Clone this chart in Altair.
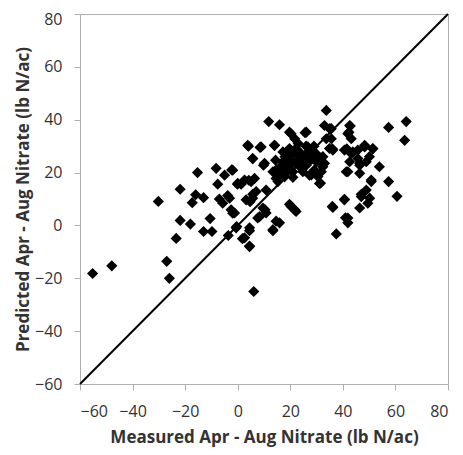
import altair as alt
import pandas as pd

measured = [-55.2, -47.9, -30.2, -27.0, -26.0, -23.4, -21.9, -21.9, -18.0, -17.3,
            -16.0, -15.3, -13.0, -13.0, -10.5, -9.8, -8.2, -7.6, -7.0, -5.7,
            -5.0, -3.8, -2.3, -2.5, -1.9, -3.6, -0.4, -0.1, 1.8, 1.3,
            4.2, 4.5, 4.5, 4.1, 5.7, 6.1, 4.7, 5.7, 6.4, 8.3,
            8.5, 9.8, 10.4, 10.8, 11.8, 13.4, 14.0, 14.4, 14.6, 15.9,
            15.9, 15.3, 15.9, 16.9, 18.4, 19.7, 19.7, 20.6, 21.0, 21.7,
            21.7, 22.2, 23.5, 24.4, 25.6, 25.8, 26.7, 27.3, 27.9, 29.2,
            29.8, 30.5, 31.5, 32.4, 32.4, 33.7, 33.0, 33.7, 35.0, 35.6,
            36.0, 36.0, 37.5, 40.6, 41.0, 41.9, 41.3, 41.5, 42.3, 42.8,
            43.2, 43.8, 45.7, 46.4, 46.4, 46.4, 47.0, 48.3, 48.9, 49.5,
            50.1, 50.8, 51.4, 53.9, 57.4, 57.4, 60.6, 63.5, 64.1,
            17.2, 19.7, 22.2, 24.1, 27.3, 28.6, 31.1, 26.1, 22.2, 19.7,
            17.2, 15.9, 13.4, 14.6, 17.8, 21.0, 24.8, 28.0, 31.8, 33.0,
            31.1, 34.9, 36.2, 40.6, 43.2, 45.7, 48.3, 51.4, 42.6, 46.4,
            48.9, 41.9, 50.8, 47.0, 50.2, 40.6, 36.2, 41.9, 20.3, 22.2,
            14.6, 13.4, 9.6, 10.8, 7.6, -1.9, 0.0, 2.6, 5.1, 7.0,
            5.7, 3.2, -1.2, -0.6, 2.6, 4.5, 4.5, -3.1, 35.6, 42.6,
            41.9, 20.3, 26.1, 3.8, 8.9, 14.0, 5.7, 10.2,
            18.0, 20.0, 22.0, 24.0, 25.0, 23.0, 26.0, 28.0, 30.0, 29.0,
            21.0, 19.0, 27.0, 24.0, 23.0, 26.0]

predicted = [-18.2, -15.3, 9.1, -13.6, -20.0, -4.9, 13.7, 1.9, 0.5, 8.6,
             11.6, 20.0, 10.5, -2.3, 2.6, -2.3, 21.6, 15.6, 10.0, 8.4,
             19.0, 11.3, 21.0, 5.9, 4.6, -3.8, -0.4, 15.6, -5.0, 15.6,
             17.1, -2.0, -8.0, 30.0, 25.3, -25.0, 9.0, 11.8, 17.8, 3.3,
             29.5, 22.8, 5.9, 13.4, 39.3, -2.0, 30.3, 24.7, 21.0, 38.1,
             1.0, 16.6, 19.0, 22.8, 20.3, 35.3, 8.0, 27.2, 18.2, 5.9,
             32.8, 24.1, 27.8, 21.6, 35.1, 25.3, 29.7, 19.0, 26.6, 21.0,
             27.2, 18.5, 16.0, 26.0, 22.2, 43.5, 37.8, 32.8, 36.6, 32.8,
             29.0, 7.2, -3.2, 9.9, 2.9, 1.0, 20.3, 29.0, 35.3, 37.6,
             32.8, 27.8, 25.3, 22.8, 19.7, 6.6, 11.8, 29.7, 13.4, 8.4,
             26.0, 16.6, 29.0, 22.2, 37.1, 16.6, 11.0, 32.2, 39.3,
             27.8, 29.1, 27.2, 25.3, 27.2, 25.3, 24.7, 22.8, 23.5, 22.8,
             24.1, 21.6, 20.3, 17.8, 18.4, 20.3, 20.3, 19.1, 20.3, 23.5,
             15.9, 29.1, 28.5, 28.5, 27.2, 28.5, 30.3, 29.1, 24.1, 23.5,
             24.1, 20.3, 17.2, 10.9, 10.3, 9.7, 6.8, 2.8, 7.2, 5.3,
             1.6, -1.6, 6.6, 4.7, 2.8, 20.9, 15.9, 17.2, 16.6, 12.8,
             10.3, 9.7, 4.7, -0.9, -4.7, -7.8, -0.9, 10.3, 36.6, 37.8,
             34.7, 34.7, 35.3, 30.3, 29.7, 30.3, 25.3, 23.5,
             26.0, 25.0, 29.0, 27.0, 23.0, 31.0, 30.0, 28.0, 24.0, 30.0,
             28.0, 27.0, 24.0, 22.0, 25.0, 27.0]

line_x = [-60, 80]
line_y = [-60, 80]
tick_values = [-60, -40, -20, 0, 20, 40, 60, 80]

pts = pd.DataFrame({"measured": measured, "predicted": predicted})
ln = pd.DataFrame({"measured": line_x, "predicted": line_y})

FONT = "Open Sans"
TXT = "#333333"
AX = "#b0b0b0"
xscale = alt.Scale(domain=[-60, 80], nice=False, zero=False)
yscale = alt.Scale(domain=[-60, 80], nice=False, zero=False)

xaxis = alt.Axis(values=tick_values, title="Measured Apr - Aug Nitrate (lb N/ac)",
                 grid=False, domainColor=AX, tickColor=AX, tickSize=6,
                 labelFontSize=16, labelFont=FONT, labelColor=TXT, labelPadding=13,
                 titleFont=FONT, titleFontSize=17, titleFontWeight="bold", titleColor=TXT,
                 titlePadding=10)
yaxis = alt.Axis(values=tick_values, title="Predicted Apr - Aug Nitrate (lb N/ac)",
                 grid=False, domainColor=AX, tickColor=AX, tickSize=6,
                 labelFontSize=16, labelFont=FONT, labelColor=TXT, labelPadding=12,
                 labelOffset={"condition": {"test": "datum.value == 80", "value": 5}, "value": 0},
                 titleFont=FONT, titleFontSize=17, titleFontWeight="bold", titleColor=TXT,
                 titlePadding=2)

points = alt.Chart(pts).mark_point(shape="diamond", filled=True, color="black", size=125, opacity=1).encode(
    x=alt.X("measured:Q", scale=xscale, axis=xaxis),
    y=alt.Y("predicted:Q", scale=yscale, axis=yaxis),
)

line = alt.Chart(ln).mark_line(color="black", strokeWidth=2).encode(
    x=alt.X("measured:Q", scale=xscale),
    y=alt.Y("predicted:Q", scale=yscale),
)

chart = alt.layer(line, points).properties(
    width=368, height=370,
    autosize="none",
    padding={"left": 72, "top": 6, "right": 7, "bottom": 63},
).configure_view(stroke=AX, strokeWidth=1)

chart.save("out.html", embed_options={"renderer": "svg", "actions": False})
